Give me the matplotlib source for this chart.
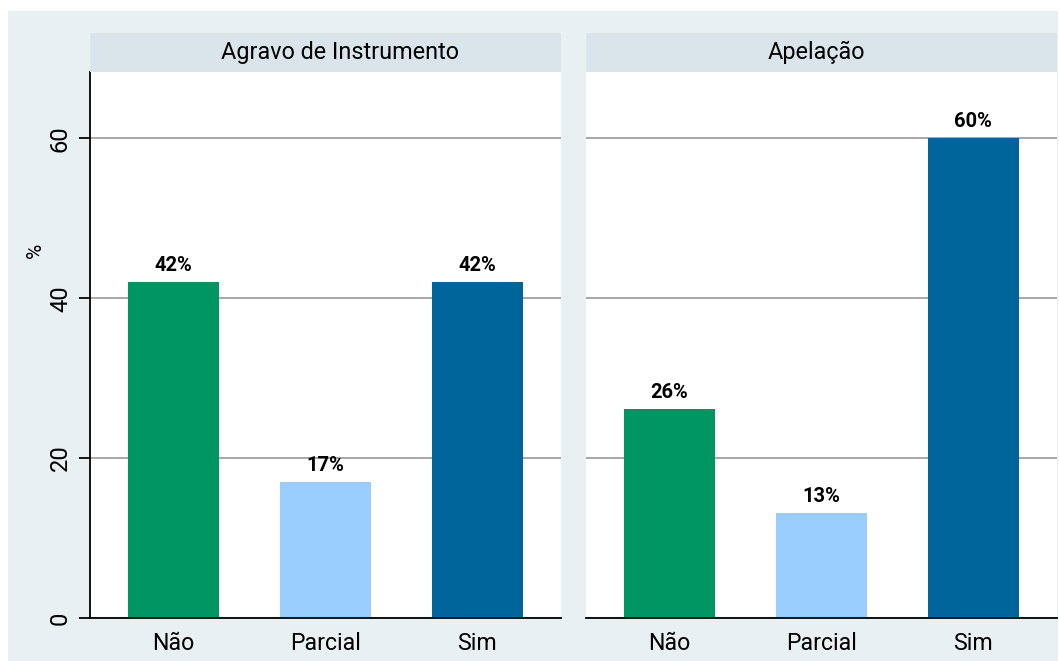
import matplotlib
matplotlib.use("Agg")
import matplotlib.pyplot as plt
from matplotlib.patches import Rectangle

plt.rcParams['font.family'] = ['Roboto', 'DejaVu Sans']

panels = ['Agravo de Instrumento', 'Apelação']
categories = ['Não', 'Parcial', 'Sim']
agravo = [42.0, 17.0, 42.0]
apelacao = [26.2, 13.1, 60.0]
values = [agravo, apelacao]
yticks = [0, 20, 40, 60]

colors = ['#009664', '#99CCFF', '#00659A']
outer_bg = '#E8F0F2'
strip_bg = '#D9E5EB'

W, H = 1059, 661
fig = plt.figure(figsize=(W / 100, H / 100), dpi=100)
fig.patch.set_facecolor('white')

# outer light background
fig.patches.append(Rectangle((8 / W, 0), 1050 / W, 650 / H,
                             transform=fig.transFigure, facecolor=outer_bg,
                             edgecolor='none', zorder=-10))

def px_rect(x0, x1, y0, y1):
    return [x0 / W, (H - y1) / H, (x1 - x0) / W, (y1 - y0) / H]

lefts = [(90, 561), (586, 1057)]
title_x = [0.53, 0.49]
x = list(range(1, len(categories) + 1))

for i, (name, vals) in enumerate(zip(panels, values)):
    x0, x1 = lefts[i]
    ax = fig.add_axes(px_rect(x0, x1, 72, 618))
    ax.set_facecolor('white')
    bars = ax.bar(x, vals, width=0.6, color=colors, zorder=3)
    ax.set_xlim(0.45, 3.55)
    ax.set_ylim(0, 68.3)
    ax.set_yticks(yticks)
    ax.yaxis.grid(True, color='#A0A0A0', linewidth=1.3, zorder=0)
    ax.set_axisbelow(True)
    ax.set_xticks(x)
    ax.set_xticklabels(categories, fontsize=16.7)
    ax.tick_params(axis='x', length=0, pad=10)
    for s in ['top', 'right']:
        ax.spines[s].set_visible(False)
    ax.spines['bottom'].set_linewidth(1.3)
    ax.spines['bottom'].set_zorder(4)
    if i == 0:
        ax.spines['left'].set_linewidth(1.3)
        ax.tick_params(axis='y', length=8, width=1.3, pad=5, labelsize=17)
        for lab in ax.get_yticklabels():
            lab.set_rotation(90)
            lab.set_va('center')
        ax.set_ylabel('%', fontsize=15)
        ax.yaxis.set_label_coords(-0.096, 0.674)
    else:
        ax.spines['left'].set_visible(False)
        ax.tick_params(axis='y', length=0, labelleft=False)
    for b, v in zip(bars, vals):
        ax.annotate(f'{v:.0f}%', (b.get_x() + b.get_width() / 2, v),
                    xytext=(0, 5), textcoords='offset points',
                    ha='center', va='bottom', fontsize=14.5, fontweight='bold')

    # panel strip
    sax = fig.add_axes(px_rect(x0, x1, 33, 72))
    sax.set_facecolor(strip_bg)
    sax.set_xticks([])
    sax.set_yticks([])
    for s in sax.spines.values():
        s.set_visible(False)
    sax.text(title_x[i], 0.5, name, ha='center', va='center', fontsize=16.8,
             transform=sax.transAxes)

fig.savefig('out.png', dpi=100)
